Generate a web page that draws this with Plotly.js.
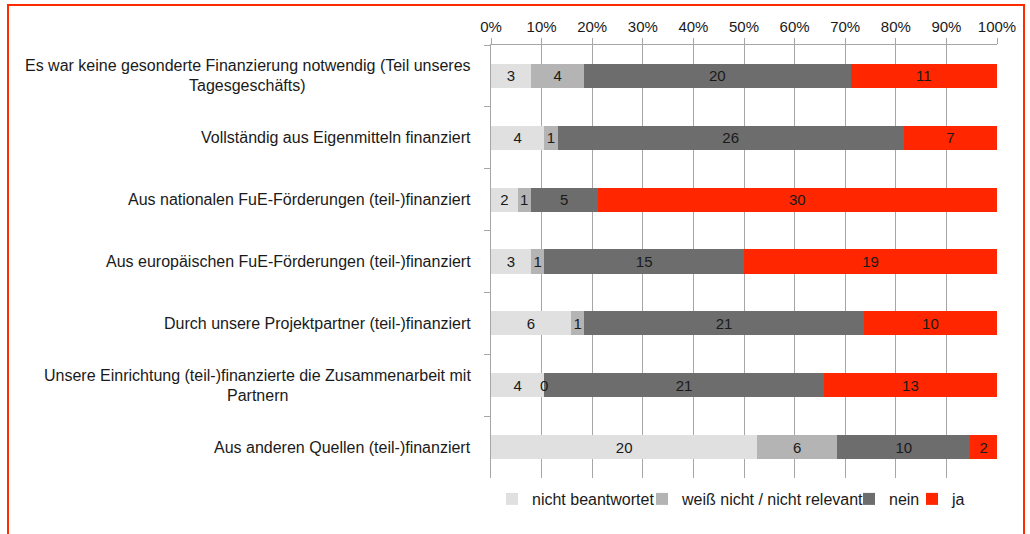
<!DOCTYPE html>
<html><head><meta charset="utf-8">
<script src="https://cdn.plot.ly/plotly-3.0.1.min.js"></script>
<style>html,body{margin:0;padding:0;background:#fff}#chart{width:1030px;height:534px}</style>
</head><body><div id="chart"></div>
<script>
const categories = [
  "Es war keine gesonderte Finanzierung notwendig (Teil unseres<br>Tagesgeschäfts)",
  "Vollständig aus Eigenmitteln finanziert",
  "Aus nationalen FuE-Förderungen (teil-)finanziert",
  "Aus europäischen FuE-Förderungen (teil-)finanziert",
  "Durch unsere Projektpartner (teil-)finanziert",
  "Unsere Einrichtung (teil-)finanzierte die Zusammenarbeit mit<br>Partnern",
  "Aus anderen Quellen (teil-)finanziert"
];
const seriesNames = ["nicht beantwortet", "weiß nicht / nicht relevant", "nein", "ja"];
const nichtBeantwortet = [3, 4, 2, 3, 6, 4, 20];
const weissNicht = [4, 1, 1, 1, 1, 0, 6];
const nein = [20, 26, 5, 15, 21, 21, 10];
const ja = [11, 7, 30, 19, 10, 13, 2];
const tickVals = [0, 10, 20, 30, 40, 50, 60, 70, 80, 90, 100];
const tickLabels = ["0%", "10%", "20%", "30%", "40%", "50%", "60%", "70%", "80%", "90%", "100%"];

const seriesValues = [nichtBeantwortet, weissNicht, nein, ja];
const seriesColors = ["#e0e0e0", "#b4b4b4", "#6d6d6d", "#ff2600"];

const FONT = '"Liberation Sans", Arial, sans-serif';
const LABEL_SIZE = 16;
const BAR_TEXT_SIZE = 15;
const TEXT_COLOR = "#1a1a1a";
const GRID = "#a6a6a6";

// plot area in px
const PL = 491, PR = 997, PT = 45, PB = 478, W = 1030, H = 534;
const pw = PR - PL, ph = PB - PT;
const px2x = p => (p - PL) / pw;
const px2y = p => (PB - p) / ph;

const barFont = {family: FONT, size: BAR_TEXT_SIZE, color: TEXT_COLOR};
const traces = seriesNames.map((name, i) => ({
  type: "bar",
  orientation: "h",
  name: name,
  y: categories,
  x: seriesValues[i],
  text: seriesValues[i].map(v => v === 0 ? "" : String(v)),
  texttemplate: "%{text}",
  textposition: "inside",
  insidetextanchor: "middle",
  constraintext: "none",
  textangle: 0,
  textfont: barFont,
  insidetextfont: barFont,
  marker: {color: seriesColors[i], line: {width: 0}},
  legend: i === 0 ? "legend" : "legend" + (i + 1),
  hoverinfo: "skip"
}));

const annotations = [];

// zero-valued segments: label drawn on top of the stack at the segment's position
categories.forEach((cat, c) => {
  const total = seriesValues.reduce((s, arr) => s + arr[c], 0);
  let cum = 0;
  seriesValues.forEach(arr => {
    if (arr[c] === 0) {
      annotations.push({
        xref: "x", yref: "y", x: 100 * cum / total, y: cat,
        text: "0", showarrow: false, xanchor: "center", yanchor: "middle",
        font: barFont
      });
    }
    cum += arr[c];
  });
});

// category labels (centered multi-line, right edge 18px left of axis)
const ctx = document.createElement("canvas").getContext("2d");
ctx.font = LABEL_SIZE + "px " + FONT;
const LINE_STEP = 20;
categories.forEach(cat => {
  const lines = cat.split("<br>");
  const widths = lines.map(l => ctx.measureText(l).width);
  const maxW = Math.max(...widths);
  lines.forEach((line, j) => {
    annotations.push({
      xref: "paper", yref: "y", x: 0, y: cat,
      text: line, showarrow: false,
      xanchor: "right", yanchor: "middle",
      xshift: -18 - (maxW - widths[j]) / 2,
      yshift: ((lines.length - 1) / 2 - j) * LINE_STEP,
      font: {family: FONT, size: LABEL_SIZE, color: TEXT_COLOR}
    });
  });
});

// legends: one per series so each entry sits where the reference places it
const legendSquareLeft = [506, 656, 863, 926];
const legendBase = {
  orientation: "h", xanchor: "left", yanchor: "middle",
  y: px2y(499), bgcolor: "rgba(0,0,0,0)", borderwidth: 0,
  itemwidth: 30, font: {family: FONT, size: 16, color: TEXT_COLOR}
};
const layout = {
  width: W, height: H,
  margin: {l: PL, r: W - PR, t: PT, b: H - PB, pad: 0},
  barmode: "stack", barnorm: "percent", bargap: 0.61,
  paper_bgcolor: "#ffffff", plot_bgcolor: "#ffffff",
  font: {family: FONT, color: TEXT_COLOR},
  showlegend: true,
  xaxis: {
    side: "top", range: [0, 100], tickmode: "array", tickvals: tickVals, ticktext: tickLabels,
    ticks: "outside", ticklen: 6, tickcolor: GRID, tickwidth: 1,
    showline: true, linecolor: GRID, linewidth: 1,
    showgrid: true, gridcolor: GRID, gridwidth: 1, zeroline: false,
    tickfont: {family: FONT, size: 15, color: TEXT_COLOR}, fixedrange: true
  },
  yaxis: {
    type: "category", autorange: "reversed", showticklabels: false,
    ticks: "outside", tickson: "boundaries", ticklen: 6, tickcolor: GRID,
    showline: true, linecolor: GRID, linewidth: 1,
    showgrid: false, zeroline: false, fixedrange: true
  },
  annotations: annotations,
  shapes: [{
    type: "rect", xref: "paper", yref: "paper",
    x0: px2x(8), x1: px2x(1024), y0: px2y(560), y1: px2y(5),
    line: {color: "#ff2a00", width: 2}, fillcolor: "rgba(0,0,0,0)", layer: "above"
  }]
};
seriesNames.forEach((n, i) => {
  const key = i === 0 ? "legend" : "legend" + (i + 1);
  layout[key] = Object.assign({}, legendBase, {x: px2x(legendSquareLeft[i] - 14)});
});

Plotly.newPlot("chart", traces, layout, {displayModeBar: false, staticPlot: true});
</script>
</body></html>
